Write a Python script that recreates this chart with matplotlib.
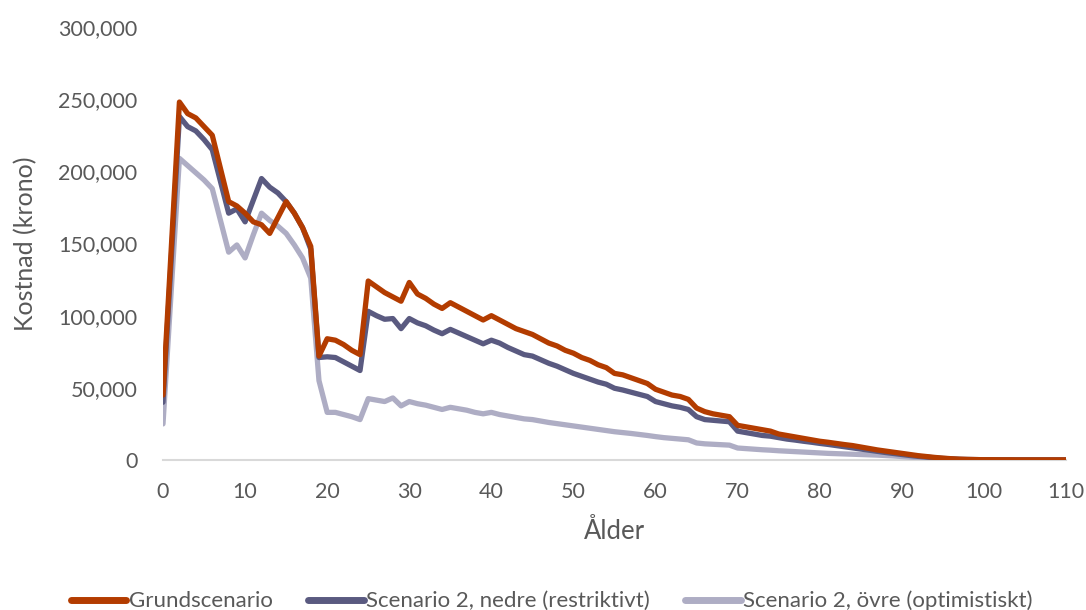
import matplotlib
matplotlib.use("Agg")
import matplotlib.pyplot as plt
from matplotlib.ticker import FuncFormatter
import numpy as np

ages = list(range(0, 111))

grund = [45, 146, 248, 240, 237, 231, 225, 202, 179, 176,
         171, 165, 163, 157, 168, 179, 171, 161, 148, 72,
         84, 83, 80, 76, 73, 124, 120, 116, 113, 110,
         123, 115, 112, 108, 105, 109, 106, 103, 100, 97,
         100, 97, 94, 91, 89, 87, 84, 81, 79, 76,
         74, 71, 69, 66, 64, 60, 59, 57, 55, 53,
         49, 47, 45, 44, 42, 36, 33.5, 32, 31, 30,
         24, 23, 22, 21, 20, 18, 17, 16, 15, 14,
         13, 12.3, 11.5, 10.7, 10, 9, 8, 7, 6.2, 5.4,
         4.6, 3.8, 3, 2.4, 1.8, 1.3, 0.9, 0.6, 0.4, 0.3,
         0.2, 0.2, 0.15, 0.15, 0.1, 0.1, 0.1, 0.1, 0.1, 0.1, 0.1]

nedre = [40, 139, 238, 231, 228, 222, 215, 193, 171, 174,
         165, 180, 195, 189, 185, 179, 171, 161, 146, 71,
         71.5, 71, 68, 65, 62, 103, 100, 97.5, 98, 91,
         98, 95, 93, 90, 87.5, 90.5, 88, 85.5, 83, 80.5,
         83, 81, 78, 75.5, 73, 72, 69.5, 67, 65, 62.5,
         60, 58, 56, 54, 52.5, 49.7, 48.5, 47, 45.5, 44,
         40.5, 39, 37.5, 36.5, 35, 30, 28, 27.5, 27, 26.5,
         20, 19, 18, 17, 16.5, 15.5, 14.5, 13.8, 13, 12.3,
         11.5, 10.8, 10, 9.2, 8.4, 7.6, 6.8, 6, 5.2, 4.5,
         3.8, 3.1, 2.5, 2, 1.5, 1.1, 0.8, 0.5, 0.4, 0.3,
         0.2, 0.2, 0.15, 0.15, 0.1, 0.1, 0.1, 0.1, 0.1, 0.1, 0.1]

ovre = [25, 117, 209, 204, 199, 194, 188, 166, 144, 149,
        140, 156, 171, 166, 162, 157, 149, 140, 126, 55,
        33, 33, 31.5, 30, 28, 42.5, 41.5, 40.5, 43, 37.5,
        40.5, 39, 38, 36.5, 35, 36.5, 35.5, 34.5, 33, 32,
        33, 31.5, 30.5, 29.5, 28.5, 28, 27, 26, 25.2, 24.4,
        23.6, 22.8, 22, 21.2, 20.4, 19.6, 19, 18.4, 17.7, 17,
        16.2, 15.5, 15, 14.5, 14, 11.8, 11.2, 10.9, 10.6, 10.3,
        8.3, 7.9, 7.5, 7.1, 6.8, 6.4, 6.1, 5.8, 5.5, 5.2,
        4.9, 4.6, 4.4, 4.2, 4, 3.8, 3.6, 3.4, 3.1, 2.8,
        2.4, 2, 1.6, 1.2, 0.9, 0.6, 0.4, 0.3, 0.2, 0.2,
        0.1, 0.1, 0.1, 0.1, 0.1, 0.1, 0.1, 0.1, 0.1, 0.1, 0.1]

labels = ["Grundscenario", "Scenario 2, nedre (restriktivt)", "Scenario 2, övre (optimistiskt)"]
colors = ["#B33C00", "#5A5A80", "#AEADC4"]
xticks = list(range(0, 111, 10))
yticks = list(range(0, 300001, 50000))

plt.rcParams['font.family'] = ['Lato', 'DejaVu Sans']
text_color = "#595959"

fig = plt.figure(figsize=(10.86, 6.10), dpi=100)
ax = fig.add_axes([163/1086, 150/610, 903/1086, 433/610])

series = [grund, nedre, ovre]
z = [3, 2, 1]
for s, lab, c, zz in zip(series, labels, colors, z):
    ax.plot(ages, np.array(s) * 1000, color=c, lw=3.8, label=lab, zorder=zz,
            solid_joinstyle='round', solid_capstyle='round')

ax.set_xlim(0, 110)
ax.set_ylim(0, 300000)
ax.set_xticks(xticks)
ax.set_yticks(yticks)
ax.yaxis.set_major_formatter(FuncFormatter(lambda v, p: f"{int(v):,}"))
ax.tick_params(axis='both', length=0, labelsize=15.5, colors=text_color)
ax.tick_params(axis='y', pad=18.5)
ax.tick_params(axis='x', pad=16)
for sp in ['top', 'right', 'left']:
    ax.spines[sp].set_visible(False)
ax.spines['bottom'].set_color("#D9D9D9")
ax.spines['bottom'].set_linewidth(1.5)
ax.spines['bottom'].set_zorder(0)

ax.set_xlabel("Ålder", fontsize=18.5, color=text_color, labelpad=12)
ax.set_ylabel("Kostnad (krono)", fontsize=18, color=text_color, labelpad=15)

leg = fig.legend(loc='lower center', bbox_to_anchor=(0.508, -0.035), ncol=3, frameon=False,
                 fontsize=16, handlelength=2.5, handletextpad=0.1, columnspacing=1.6)
for t in leg.get_texts():
    t.set_color(text_color)
for h in leg.get_lines():
    h.set_linewidth(5)

fig.savefig("out.png", dpi=100, facecolor="white")
